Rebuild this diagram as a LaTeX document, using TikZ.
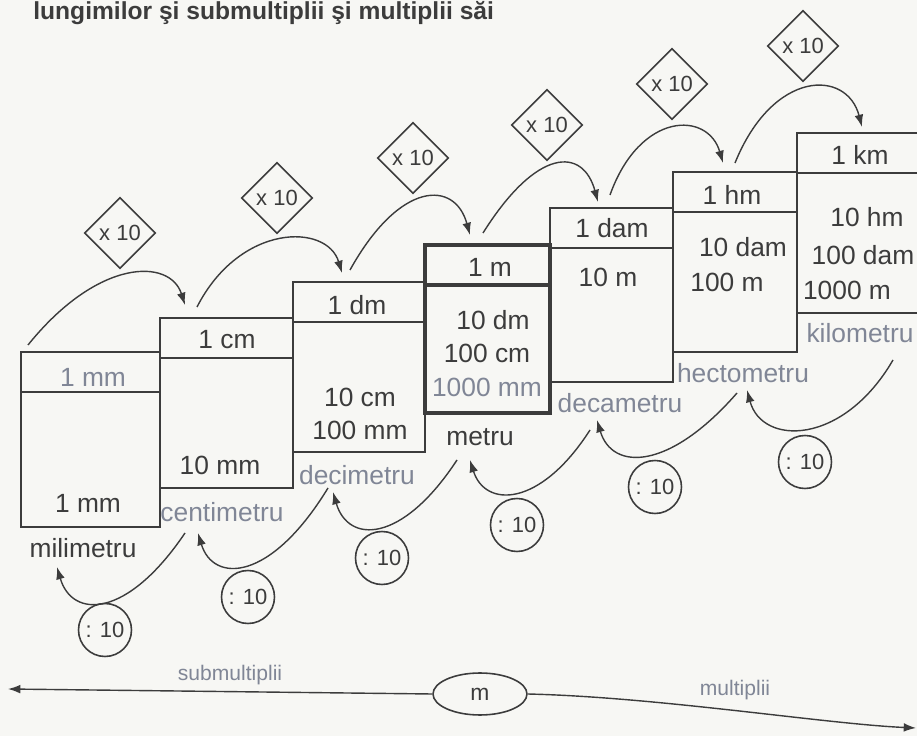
\documentclass[tikz,border=0pt]{standalone}
\usepackage{fontspec}
\setmainfont{Liberation Sans}
\usetikzlibrary{shapes.geometric,arrows.meta}

\definecolor{ink}{RGB}{60,60,60}
\definecolor{pale}{RGB}{128,134,150}
\definecolor{paper}{RGB}{247,247,244}

\tikzset{
  boxline/.style={draw=ink, line width=1pt},
  valtext/.style={text=ink, inner sep=0pt, font=\fontsize{15}{18}\selectfont},
  unitlabel/.style={valtext, text=pale},
  mulmark/.style={draw=ink, diamond, line width=0.9pt, minimum width=1.42cm,
    minimum height=1.42cm, inner sep=0pt, text=ink, font=\fontsize{12.5}{14}\selectfont},
  divmark/.style={draw=ink, circle, line width=0.9pt, minimum size=1.06cm,
    inner sep=0pt, text=ink, font=\fontsize{12.5}{14}\selectfont},
  arcarrow/.style={draw=ink, line width=0.8pt, -{Latex[length=7pt,width=5pt]}},
  sidetext/.style={text=pale, inner sep=0pt, font=\fontsize{12}{14}\selectfont},
}

\begin{document}
\begin{tikzpicture}[x=0.02cm,y=-0.02cm]
    \useasboundingbox (0,0) rectangle (917,736);
    \clip (0,0) rectangle (917,736);
    \fill[paper] (0,0) rectangle (917,736);

    % Title line
    \node[anchor=west, inner sep=0pt, text=ink, font=\bfseries\fontsize{14}{16}\selectfont]
        (title) at (33,13) {lungimilor şi submultiplii şi multiplii săi};

    % Unit boxes with their header strip
    \foreach \xl/\xr/\yt/\yb in {21/160/352/527, 160/293/318/488, 293/425/282/452,
                                 550/673/208/382, 673/797/172/352, 797/940/133/313} {
        \draw[boxline] (\xl,\yt) rectangle (\xr,\yb);
        \draw[boxline] (\xl,\yt+40) -- (\xr,\yt+40);
    }
    % The metre box is drawn heavier
    \draw[boxline, line width=1.9pt] (425,245) rectangle (550,413);
    \draw[boxline, line width=1.9pt] (425,285) -- (550,285);

    % Box texts
    \node[valtext, text=pale] (mmhead) at (93,377) {1 mm};
    \node[valtext] (mmval) at (88,503) {1 mm};
    \node[valtext] (mmname) at (83,548) {milimetru};

    \node[valtext] (cmhead) at (227,340) {1 cm};
    \node[valtext] (cmval) at (220,465) {10 mm};
    \node[unitlabel] (cmname) at (222,512) {centimetru};

    \node[valtext] (dmhead) at (357,305) {1 dm};
    \node[valtext] (dmvala) at (360,397) {10 cm};
    \node[valtext] (dmvalb) at (360,430) {100 mm};
    \node[unitlabel] (dmname) at (357,475) {decimetru};

    \node[valtext] (mhead) at (490,267) {1 m};
    \node[valtext] (mvala) at (493,320) {10 dm};
    \node[valtext] (mvalb) at (487,353) {100 cm};
    \node[valtext, text=pale] (mvalc) at (487,387) {1000 mm};
    \node[valtext] (mname) at (480,437) {metru};

    \node[valtext] (damhead) at (612,228) {1 dam};
    \node[valtext] (damval) at (608,277) {10 m};
    \node[unitlabel] (damname) at (620,403) {decametru};

    \node[valtext] (hmhead) at (732,195) {1 hm};
    \node[valtext] (hmvala) at (743,247) {10 dam};
    \node[valtext] (hmvalb) at (727,282) {100 m};
    \node[unitlabel] (hmname) at (743,373) {hectometru};

    \node[valtext] (kmhead) at (860,155) {1 km};
    \node[valtext] (kmvala) at (867,217) {10 hm};
    \node[valtext] (kmvalb) at (863,255) {100 dam};
    \node[valtext] (kmvalc) at (847,290) {1000 m};
    \node[unitlabel] (kmname) at (860,333) {kilometru};

    % Multiply marks
    \node[mulmark] (mul1) at (120,233) {x 10};
    \node[mulmark] (mul2) at (277,198) {x 10};
    \node[mulmark] (mul3) at (413,158) {x 10};
    \node[mulmark] (mul4) at (547,125) {x 10};
    \node[mulmark] (mul5) at (672,84) {x 10};
    \node[mulmark] (mul6) at (803,46) {x 10};

    % Divide marks
    \node[divmark] (div1) at (105,630) {: 10};
    \node[divmark] (div2) at (248,597) {: 10};
    \node[divmark] (div3) at (382,558) {: 10};
    \node[divmark] (div4) at (517,525) {: 10};
    \node[divmark] (div5) at (655,487) {: 10};
    \node[divmark] (div6) at (805,462) {: 10};

    % Ends of the x 10 arcs
    \coordinate (mmup) at (28,345);   \coordinate (cmin) at (185,305);
    \coordinate (cmup) at (197,307);  \coordinate (dmin) at (342,273);
    \coordinate (dmup) at (350,270);  \coordinate (mtin) at (470,235);
    \coordinate (mtup) at (483,233);  \coordinate (damin) at (598,202);
    \coordinate (damup) at (610,195); \coordinate (hmin) at (723,163);
    \coordinate (hmup) at (735,163);  \coordinate (kmin) at (862,127);

    \draw[arcarrow] (mmup) .. controls +(70,-87) and +(-15,-47) .. (cmin);
    \draw[arcarrow] (cmup) .. controls +(43,-84) and +(-15,-50) .. (dmin);
    \draw[arcarrow] (dmup) .. controls +(50,-90) and +(-15,-55) .. (mtin);
    \draw[arcarrow] (mtup) .. controls +(54,-86) and +(-15,-55) .. (damin);
    \draw[arcarrow] (damup) .. controls +(30,-84) and +(-15,-52) .. (hmin);
    \draw[arcarrow] (hmup) .. controls +(38,-94) and +(-15,-58) .. (kmin);

    % Ends of the : 10 arcs
    \coordinate (cmdown) at (185,533);  \coordinate (mmback) at (57,567);
    \coordinate (dmdown) at (328,488);  \coordinate (cmback) at (198,533);
    \coordinate (mtdown) at (457,460);  \coordinate (dmback) at (333,492);
    \coordinate (damdown) at (590,430); \coordinate (mtback) at (470,460);
    \coordinate (hmdown) at (737,393);  \coordinate (damback) at (597,420);
    \coordinate (kmdown) at (893,360);  \coordinate (hmback) at (747,390);

    \draw[arcarrow] (cmdown) .. controls +(-58,86) and +(15,52) .. (mmback);
    \draw[arcarrow] (dmdown) .. controls +(-58,95) and +(15,50) .. (cmback);
    \draw[arcarrow] (mtdown) .. controls +(-55,84) and +(15,52) .. (dmback);
    \draw[arcarrow] (damdown) .. controls +(-50,78) and +(15,48) .. (mtback);
    \draw[arcarrow] (hmdown) .. controls +(-68,78) and +(15,51) .. (damback);
    \draw[arcarrow] (kmdown) .. controls +(-50,86) and +(15,56) .. (hmback);

    % Bottom axis: submultiples to the left, multiples to the right
    \node[draw=ink, ellipse, line width=0.9pt, minimum width=1.88cm, minimum height=0.84cm,
        inner sep=0pt, text=ink, font=\fontsize{13}{15}\selectfont] (metre) at (480,694) {m};
    \coordinate (subend) at (8,689);
    \coordinate (multend) at (916,728);
    \draw[arcarrow] (metre.west) -- (subend);
    \draw[arcarrow] (metre.east) .. controls +(130,3) and +(-90,-4) .. (multend);
    \node[sidetext] (sublabel) at (230,675) {submultiplii};
    \node[sidetext] (multlabel) at (735,690) {multiplii};
\end{tikzpicture}
\end{document}
